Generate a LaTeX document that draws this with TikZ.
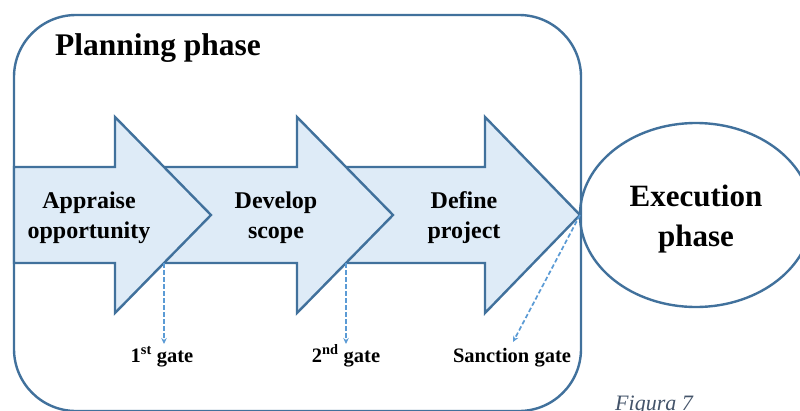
\documentclass[tikz,border=0pt]{standalone}
\usepackage{fontspec}
\setmainfont{Liberation Serif}
\usetikzlibrary{arrows.meta}
\definecolor{edgeblue}{HTML}{41719C}
\definecolor{fillblue}{HTML}{DEEBF7}
\definecolor{gateblue}{HTML}{5B9BD5}
\definecolor{capgrey}{HTML}{44546A}
\tikzset{
  outline/.style={draw=edgeblue, line width=2.4pt, line join=miter},
  stagearrow/.style={outline, fill=fillblue},
  stagetext/.style={align=center, inner sep=0pt, font=\bfseries\fontsize{24}{30}\selectfont},
  gatetext/.style={inner sep=0pt, font=\bfseries\fontsize{20.5}{24}\selectfont},
  gateline/.style={draw=gateblue, line width=1.7pt, dash pattern=on 4.5pt off 2.5pt,
                   -{Stealth[length=6pt,width=5.5pt]}},
}
% block arrow: body start, head base, tip (body 167..263, head 117..313, tip at 215)
\newcommand{\stagearrow}[3]{%
  \draw[stagearrow] (#1,167) -- (#2,167) -- (#2,117) -- (#3,215) -- (#2,313)
    -- (#2,263) -- (#1,263) -- cycle;}
\begin{document}
\begin{tikzpicture}[x=1pt, y=-1pt]
\useasboundingbox (0,0) rectangle (800,410);
\clip (0,0) rectangle (800,410);
\fill[white] (0,0) rectangle (800,410);

% planning phase frame
\draw[outline, rounded corners=62pt] (14,15) rectangle (581,411);
\node[anchor=base west, inner sep=0pt, font=\bfseries\fontsize{31.5}{36}\selectfont]
  (plan) at (55,55) {Planning phase};

% execution phase
\draw[outline] (696,215) ellipse [x radius=116, y radius=92];
\node[align=center, inner sep=0pt, font=\bfseries\fontsize{31}{40}\selectfont]
  (exec) at (696,219) {Execution\\phase};

% stage arrows, later stages behind earlier ones
\stagearrow{330}{485}{580}
\stagearrow{150}{297}{393}
\stagearrow{14}{115}{211}

\node[stagetext] (s1) at (89,218) {Appraise\\opportunity};
\node[stagetext] (s2) at (276,218) {Develop\\scope};
\node[stagetext] (s3) at (464,218) {Define\\project};

% gates
\coordinate (g1) at (164,263);
\coordinate (g2) at (346,263);
\coordinate (g3) at (580,215);
\node[gatetext, anchor=base] (l1) at (162,362) {1\textsuperscript{st} gate};
\node[gatetext, anchor=base] (l2) at (346,362) {2\textsuperscript{nd} gate};
\node[gatetext, anchor=base] (l3) at (512,362) {Sanction gate};
\draw[gateline] (g1) -- (164,344);
\draw[gateline] (g2) -- (346,344);
\draw[gateline] (g3) -- (513,342);

% caption
\node[anchor=base west, inner sep=0pt, text=capgrey,
      font=\itshape\fontsize{22}{26}\selectfont] (cap) at (615,410) {Figura 7};
\end{tikzpicture}
\end{document}
